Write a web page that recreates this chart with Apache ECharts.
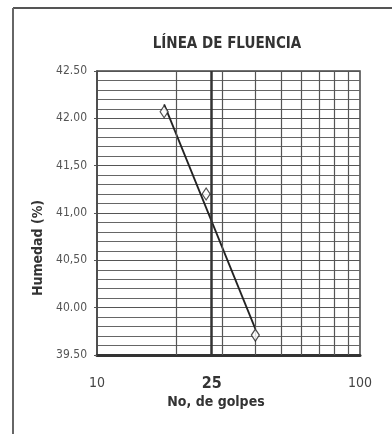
<!DOCTYPE html>
<html>
<head>
<meta charset="utf-8">
<script src="https://cdn.jsdelivr.net/npm/echarts@6/dist/echarts.min.js"></script>
<style>
html,body{margin:0;padding:0;background:#fff;}
#chart{width:392px;height:434px;}
</style>
</head>
<body>
<div id="chart"></div>
<script>
// ---- data ----
const titleText = 'LÍNEA DE FLUENCIA';
const xName = 'No, de golpes';
const yName = 'Humedad (%)';
const golpes = [18, 26, 40];            // No. de golpes
const humedad = [42.07, 41.20, 39.71];  // Humedad (%)
const yTickValues = [39.5, 40.0, 40.5, 41.0, 41.5, 42.0, 42.5];
const yTickLabels = ['39.50', '40.00', '40,50', '41,00', '41,50', '42.00', '42.50'];
const xGridValues = [20, 30, 40, 50, 60, 70, 80, 90];
const refLabel = '25';
const refLinePos = 27.3;   // where the "25" reference line is drawn in the picture

// least-squares trend of humedad vs log10(golpes)
const lx = golpes.map(v => Math.log10(v));
const mx = lx.reduce((a, b) => a + b, 0) / lx.length;
const my = humedad.reduce((a, b) => a + b, 0) / humedad.length;
let sxy = 0, sxx = 0;
lx.forEach((v, i) => { sxy += (v - mx) * (humedad[i] - my); sxx += (v - mx) * (v - mx); });
const slope = sxy / sxx;
const fit = n => my + slope * (Math.log10(n) - mx);
const trendN = [golpes[0], golpes[golpes.length - 1]];
const trend = trendN.map(n => [n, fit(n)]);

const font = '"Liberation Sans Narrow", "DejaVu Sans Condensed", "Liberation Sans", sans-serif';

const chart = echarts.init(document.getElementById('chart'));
chart.setOption({
  animation: false,
  backgroundColor: '#fff',
  title: {
    text: titleText,
    left: 222, top: 32, textAlign: 'center',
    textStyle: { fontFamily: font, fontSize: 15, fontWeight: 'bold', color: '#333' }
  },
  grid: { left: 97, right: 32, top: 71, bottom: 79, show: true, borderColor: '#444', borderWidth: 1.5 },
  xAxis: {
    type: 'log', logBase: 10, min: 10, max: 100,
    name: xName, nameLocation: 'middle', nameGap: 37,
    nameTextStyle: { fontFamily: font, fontSize: 14, fontWeight: 'bold', color: '#333', padding: [0, 25, 0, 0] },
    axisLine: { show: true, lineStyle: { color: '#333', width: 3 } },
    axisTick: { show: false },
    splitLine: { show: false },
    axisLabel: { margin: 21, fontFamily: font, fontSize: 14, color: '#444' }
  },
  yAxis: {
    type: 'value', min: 39.5, max: 42.5, interval: 0.5,
    name: yName, nameLocation: 'middle', nameGap: 52, nameRotate: 90,
    nameTextStyle: { fontFamily: font, fontSize: 14, fontWeight: 'bold', color: '#333', padding: [0, 70, 0, 0] },
    axisLine: { show: true, lineStyle: { color: '#444', width: 1.5 } },
    axisTick: { show: true, length: 3, lineStyle: { color: '#555' } },
    axisLabel: {
      margin: 10, fontFamily: font, fontSize: 12, color: '#555',
      formatter: v => { const i = yTickValues.findIndex(t => Math.abs(t - v) < 1e-6); return i >= 0 ? yTickLabels[i] : ''; }
    },
    splitLine: { show: true, lineStyle: { color: '#555', width: 1.2 } },
    minorTick: { show: false, splitNumber: 5 },
    minorSplitLine: { show: true, lineStyle: { color: '#666', width: 1 } }
  },
  series: [
    {
      type: 'line', data: trend, symbol: 'none', silent: true,
      lineStyle: { color: '#222', width: 1.8 }, z: 3,
      markLine: {
        silent: true, symbol: 'none', animation: false,
        label: { show: false },
        data: xGridValues.map(v => ({ xAxis: v, lineStyle: { color: '#555', width: 1.2, type: 'solid' } }))
          .concat([{ xAxis: refLinePos, lineStyle: { color: '#333', width: 2.5, type: 'solid' },
            label: { show: true, position: 'start', formatter: refLabel, distance: 21,
              fontFamily: font, fontSize: 16, fontWeight: 'bold', color: '#333' } }])
      }
    },
    {
      type: 'scatter', data: golpes.map((g, i) => [g, humedad[i]]),
      symbol: 'diamond', symbolSize: [8, 12], z: 5,
      itemStyle: { color: '#fff', borderColor: '#222', borderWidth: 1.2 }
    }
  ],
  graphic: [
    { type: 'line', shape: { x1: 13, y1: 8, x2: 392, y2: 8 }, style: { stroke: '#555', lineWidth: 2 } },
    { type: 'line', shape: { x1: 13, y1: 8, x2: 13, y2: 434 }, style: { stroke: '#666', lineWidth: 2 } }
  ]
});
</script>
</body>
</html>
